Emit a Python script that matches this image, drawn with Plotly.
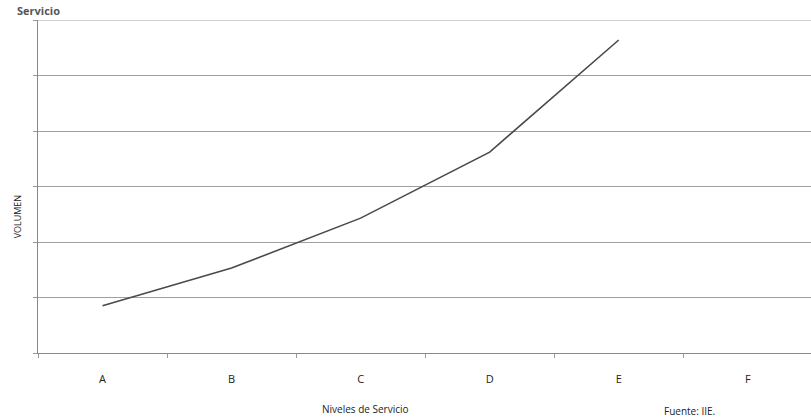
import plotly.graph_objects as go

categories = ["A", "B", "C", "D", "E", "F"]
volumen = [0.85, 1.53, 2.43, 3.62, 5.64, None]
y_max = 6

fig = go.Figure()
fig.add_trace(go.Scatter(
    x=categories, y=volumen, mode="lines",
    line=dict(color="#4a4a4a", width=1.6), connectgaps=False,
    showlegend=False, hoverinfo="skip"))

font_family = "Open Sans, Liberation Sans, sans-serif"

fig.update_layout(
    width=811, height=419,
    margin=dict(l=38, r=0, t=20, b=66, autoexpand=False),
    paper_bgcolor="white", plot_bgcolor="white",
    font=dict(family=font_family, size=10, color="#222"),
    xaxis=dict(
        type="category", range=[-0.5, 5.49], automargin=False,
        showline=True, linecolor="#888", linewidth=1,
        ticks="outside", ticklen=4, tickcolor="#999", tickson="boundaries",
        ticklabelstandoff=16,
        showgrid=False, tickfont=dict(size=11, color="#222"),
    ),
    yaxis=dict(
        range=[0, y_max], dtick=1, showticklabels=False, automargin=False,
        showline=True, linecolor="#888", linewidth=1,
        ticks="outside", ticklen=4, tickcolor="#999",
        showgrid=True, gridcolor="#a0a0a0", gridwidth=1,
        zeroline=False,
    ),
    shapes=[
        dict(type="line", xref="paper", yref="y", x0=0, x1=1, y0=y_max, y1=y_max,
             line=dict(color="#a0a0a0", width=1)),
    ],
    annotations=[
        dict(text="Niveles de Servicio", xref="paper", yref="paper", x=0.424, y=-0.168,
             xanchor="center", yanchor="middle", showarrow=False,
             font=dict(size=10, color="#222")),
        dict(text="VOLUMEN", xref="paper", yref="paper", x=-0.026, y=0.41,
             xanchor="center", yanchor="middle", showarrow=False, textangle=-90,
             font=dict(size=9, color="#222")),
        dict(text="Fuente: IIE.", xref="paper", yref="paper", x=0.843, y=-0.173,
             xanchor="center", yanchor="middle", showarrow=False,
             font=dict(size=10, color="#222")),
        dict(text="<b>Servicio</b>", xref="paper", yref="paper", x=-0.03, y=1.058,
             xanchor="left", yanchor="top", showarrow=False,
             font=dict(size=11, color="#555")),
    ],
)

fig.write_html("out.html", config={"displayModeBar": False},
               post_script="document.body.style.margin='0';")
